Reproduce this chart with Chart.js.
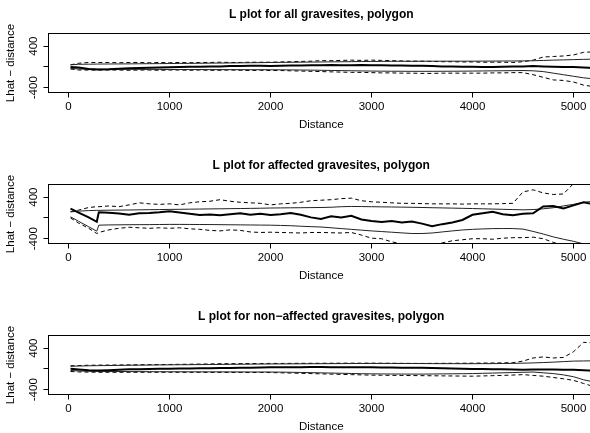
<!DOCTYPE html>
<html>
<head>
<meta charset="utf-8">
<script src="https://cdn.jsdelivr.net/npm/chart.js@4.4.1/dist/chart.umd.min.js"></script>
<style>
  html, body { margin: 0; padding: 0; background: #fff; overflow: hidden; width: 590px; height: 433px; }
  .panel { position: absolute; left: 0; }
</style>
</head>
<body>
<div class="panel" style="top:0px"><canvas id="c1" width="620" height="138"></canvas></div>
<div class="panel" style="top:151px"><canvas id="c2" width="620" height="138"></canvas></div>
<div class="panel" style="top:302px"><canvas id="c3" width="620" height="138"></canvas></div>
<script>
// Distance grid (shared by all series)
const distance = [20, 100, 200, 280,
  300, 400, 500, 600, 700, 800, 900, 1000,
  1100, 1200, 1300, 1400, 1500, 1600, 1700, 1800, 1900, 2000,
  2100, 2200, 2300, 2400, 2500, 2600, 2700, 2800, 2900, 3000,
  3100, 3200, 3300, 3400, 3500, 3600, 3700, 3800, 3900, 4000,
  4100, 4200, 4300, 4400, 4500, 4600, 4700, 4800, 4900, 5000,
  5100, 5200];

const xTicks = [0, 1000, 2000, 3000, 4000, 5000];
const yTicks = [-400, -200, 0, 200, 400, 600];
const yTicksLabelled = [-400, 400];

const titles = [
  "L plot for all gravesites, polygon",
  "L plot for affected gravesites, polygon",
  "L plot for non\u2212affected gravesites, polygon"
];

// ---- Panel 1: all gravesites ----
const allObserved = [0, -10, -40, -50,
  -50, -45, -35, -25, -20, -15, -10, -5,
  0, 5, 5, 10, 10, 15, 15, 20, 20, 15,
  20, 25, 25, 30, 30, 35, 30, 30, 35, 30,
  30, 25, 25, 20, 20, 15, 10, 10, 5, 5,
  0, 0, 5, 10, 10, 15, 10, 5, 0, 0,
  -10, -20];
const allUpperBand = [40, 50, 52, 54,
  55, 56, 57, 58, 60, 62, 63, 65,
  67, 68, 70, 72, 74, 76, 78, 80, 82, 85,
  87, 89, 91, 93, 95, 97, 99, 101, 103, 105,
  106, 107, 108, 108, 109, 110, 110, 110, 110, 110,
  111, 112, 113, 114, 115, 118, 124, 130, 135, 140,
  145, 150];
const allUpperEnv = [40, 70, 85, 85,
  85, 85, 80, 85, 85, 80, 85, 80,
  85, 80, 85, 85, 90, 85, 85, 90, 90, 90,
  95, 100, 105, 110, 120, 120, 125, 130, 125, 130,
  125, 120, 115, 110, 110, 105, 100, 100, 95, 95,
  90, 90, 90, 85, 100, 130, 190, 200, 210, 230,
  280, 290];
const allLowerBand = [-30, -40, -42, -44,
  -45, -45, -45, -46, -47, -48, -49, -50,
  -50, -51, -51, -52, -52, -53, -53, -54, -54, -55,
  -56, -58, -60, -62, -65, -68, -71, -74, -77, -80,
  -82, -83, -84, -85, -85, -85, -84, -83, -82, -80,
  -78, -76, -74, -72, -70, -75, -90, -120, -150, -180,
  -210, -230];
const allLowerEnv = [-40, -60, -60, -60,
  -60, -60, -60, -65, -60, -60, -65, -60,
  -60, -65, -60, -65, -65, -60, -65, -70, -65, -70,
  -70, -75, -80, -85, -90, -95, -100, -105, -105, -110,
  -115, -115, -120, -120, -125, -125, -120, -120, -120, -120,
  -120, -115, -115, -110, -110, -150, -200, -250, -260, -290,
  -350, -380];

// ---- Panel 2: affected gravesites ----
const affObserved = [180, 100, 10, -75,
  110, 100, 85, 60, 90, 95, 110, 130,
  105, 80, 55, 65, 50, 70, 90, 60, 80, 55,
  70, 95, 60, 10, -20, 30, 10, 40, -30, -60,
  -80, -60, -90, -70, -110, -160, -120, -90, -40, 60,
  90, 120, 70, 50, 80, 90, 220, 230, 180, 240,
  300, 260];
const affUpperBand = [115, 130, 140, 145,
  145, 148, 150, 152, 155, 158, 160, 163,
  165, 168, 170, 173, 175, 178, 180, 183, 186, 190,
  192, 194, 196, 198, 200, 205, 215, 220, 218, 215,
  212, 210, 207, 204, 200, 196, 192, 188, 184, 180,
  175, 170, 165, 160, 155, 160, 175, 195, 230, 260,
  300, 320];
const affUpperEnv = [120, 150, 200, 215,
  215, 230, 215, 250, 290, 270, 260, 270,
  250, 290, 310, 320, 350, 320, 300, 290, 280, 250,
  270, 280, 300, 330, 340, 350, 370, 380, 330, 310,
  300, 290, 280, 280, 275, 270, 270, 270, 265, 270,
  270, 270, 275, 280, 500, 540, 480, 450, 460, 660,
  700, 690];
const affLowerBand = [20, -65, -170, -255,
  -140, -135, -133, -131, -130, -129, -127, -125,
  -125, -126, -127, -128, -130, -132, -134, -136, -138, -140,
  -145, -150, -160, -168, -175, -190, -205, -220, -235, -250,
  -262, -275, -288, -300, -300, -290, -270, -250, -232, -220,
  -212, -206, -204, -205, -215, -260, -310, -365, -410, -450,
  -500, -540];
const affLowerEnv = [0, -100, -200, -300,
  -280, -230, -200, -180, -190, -200, -190, -200,
  -190, -210, -220, -240, -250, -230, -240, -270, -280, -275,
  -280, -285, -290, -280, -280, -285, -290, -280, -330, -390,
  -400, -460, -500, -520, -520, -510, -480, -440, -420, -400,
  -400, -410, -390, -380, -380, -370, -400, -470, -530, -580,
  -600, -620];

// ---- Panel 3: non-affected gravesites ----
const nonObserved = [5, -10, -25, -33,
  -33, -25, -15, -8, -5, 0, 3, 5,
  7, 10, 12, 13, 15, 18, 20, 23, 27, 30,
  32, 33, 34, 35, 35, 34, 33, 32, 31, 30,
  28, 26, 24, 22, 20, 16, 12, 8, 4, 0,
  -3, -6, -9, -12, -15, -12, -10, -12, -14, -15,
  -25, -35];
const nonUpperBand = [50, 55, 60, 62,
  63, 65, 68, 70, 72, 74, 76, 78,
  80, 81, 83, 84, 86, 88, 89, 91, 93, 95,
  96, 97, 98, 99, 100, 101, 102, 103, 104, 105,
  105, 105, 104, 104, 103, 102, 101, 101, 100, 100,
  101, 102, 104, 106, 110, 115, 122, 130, 140, 150,
  153, 155];
const nonUpperEnv = [60, 65, 70, 72,
  73, 74, 75, 78, 80, 82, 83, 85,
  88, 90, 93, 95, 100, 100, 102, 103, 104, 105,
  105, 106, 107, 108, 108, 109, 110, 110, 110, 110,
  109, 108, 107, 106, 105, 106, 107, 108, 109, 110,
  112, 114, 116, 120, 150, 210, 230, 210, 220, 330,
  510, 500];
const nonLowerBand = [-30, -40, -45, -48,
  -48, -49, -50, -51, -52, -53, -54, -55,
  -55, -56, -56, -57, -57, -58, -58, -59, -59, -60,
  -62, -65, -68, -72, -76, -80, -84, -88, -92, -95,
  -97, -98, -99, -100, -100, -98, -96, -94, -92, -90,
  -85, -80, -75, -70, -65, -60, -75, -90, -115, -150,
  -210, -250];
const nonLowerEnv = [-50, -58, -62, -64,
  -65, -65, -65, -65, -65, -65, -65, -65,
  -65, -66, -66, -67, -67, -68, -68, -69, -69, -70,
  -75, -80, -85, -90, -95, -100, -105, -110, -115, -120,
  -122, -124, -126, -128, -130, -132, -134, -136, -138, -140,
  -135, -130, -125, -118, -110, -125, -140, -165, -190, -220,
  -280, -340];

const FONT = "'Liberation Sans', Arial, Helvetica, sans-serif";

const boxPlugin = {
  id: 'plotBox',
  afterDatasetsDraw(chart) {
    const { ctx, chartArea: a } = chart;
    ctx.save();
    ctx.strokeStyle = '#000';
    ctx.lineWidth = 1;
    ctx.strokeRect(a.left, a.top, a.right - a.left, a.bottom - a.top);
    ctx.restore();
  }
};

function pts(values) {
  return distance.map((d, i) => ({ x: d, y: values[i] }));
}

function makePanel(id, title, obs, upB, upE, loB, loE) {
  const thin = { borderColor: '#222', borderWidth: 1 };
  const dash = { borderColor: '#000', borderWidth: 1, borderDash: [4, 3] };
  new Chart(document.getElementById(id), {
    type: 'line',
    data: {
      datasets: [
        { data: pts(obs), borderColor: '#000', borderWidth: 2 },
        Object.assign({ data: pts(upB) }, thin),
        Object.assign({ data: pts(loB) }, thin),
        Object.assign({ data: pts(upE) }, dash),
        Object.assign({ data: pts(loE) }, dash)
      ]
    },
    options: {
      responsive: false,
      animation: false,
      events: [],
      layout: { padding: { left: 0, right: 26, top: 0, bottom: 0 } },
      elements: { point: { radius: 0 }, line: { tension: 0 } },
      plugins: {
        legend: { display: false },
        tooltip: { enabled: false },
        title: {
          display: true, text: title, color: '#000', fullSize: false,
          font: { family: FONT, size: 12, weight: 'bold', lineHeight: 1.2 },
          padding: { top: 7, bottom: 12.1 }
        }
      },
      scales: {
        x: {
          type: 'linear', min: -198, max: 5203,
          afterBuildTicks: s => { s.ticks = xTicks.map(v => ({ value: v })); },
          afterFit: s => { s.height = 45.5; },
          ticks: { color: '#000', padding: 2, maxRotation: 0,
                   font: { family: FONT, size: 11.5, lineHeight: 1.2 },
                   callback: v => String(v) },
          grid: { drawOnChartArea: false, drawTicks: true, tickLength: 5, color: '#000', tickColor: '#000' },
          border: { display: false },
          title: { display: true, text: 'Distance', color: '#000',
                   font: { family: FONT, size: 11.5, lineHeight: 1.2 },
                   padding: { top: 0, bottom: 6.3 } }
        },
        y: {
          type: 'linear', min: -492, max: 642,
          afterBuildTicks: s => { s.ticks = yTicks.map(v => ({ value: v })); },
          afterFit: s => { s.width = 48.5; },
          ticks: {
            color: '#000', padding: -1.5, minRotation: 90, maxRotation: 90, crossAlign: 'center',
            font: { family: FONT, size: 11.5, lineHeight: 1.2 },
            callback: v => (yTicksLabelled.includes(v) ? String(v) : '')
          },
          grid: { drawOnChartArea: false, drawTicks: true, tickLength: 5, color: '#000', tickColor: '#000' },
          border: { display: false },
          title: { display: true, text: 'Lhat \u2212 distance', color: '#000',
                   font: { family: FONT, size: 11.5, lineHeight: 1.2 },
                   padding: { top: 4, bottom: 0 } }
        }
      }
    },
    plugins: [boxPlugin]
  });
}

makePanel('c1', titles[0], allObserved, allUpperBand, allUpperEnv, allLowerBand, allLowerEnv);
makePanel('c2', titles[1], affObserved, affUpperBand, affUpperEnv, affLowerBand, affLowerEnv);
makePanel('c3', titles[2], nonObserved, nonUpperBand, nonUpperEnv, nonLowerBand, nonLowerEnv);
</script>
</body>
</html>
